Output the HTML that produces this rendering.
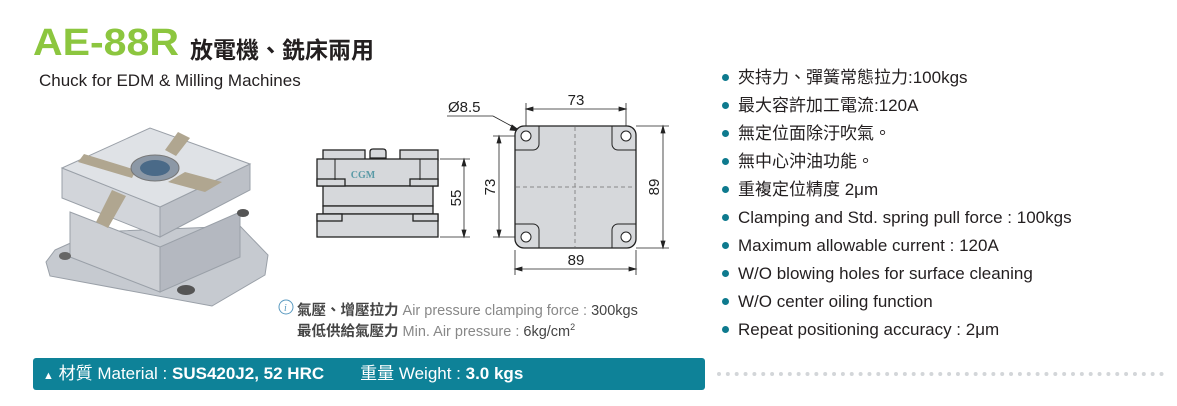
<!DOCTYPE html>
<html><head><meta charset="utf-8"><style>
body{margin:0;width:1177px;height:406px;background:#fff;position:relative;overflow:hidden;font-family:"Liberation Sans","Noto Sans CJK TC",sans-serif;color:#231f20}
.a{position:absolute;white-space:nowrap}
.bl{position:absolute;left:722px;font-size:17px;line-height:20px}
.bl:before{content:"";position:absolute;left:0;top:6px;width:7px;height:7px;border-radius:50%;background:#0e7a8e}
.bl span{margin-left:16px}
</style></head><body>
<div class="a" style="left:33px;top:22px;font-size:38px;font-weight:bold;color:#8cc63f;transform:scaleX(1.08);transform-origin:left">AE-88R</div>
<div class="a" style="left:190px;top:31px;font-size:23px;font-weight:bold">放電機、銑床兩用</div>
<div class="a" style="left:39px;top:71px;font-size:17px">Chuck for EDM &amp; Milling Machines</div>

<svg class="a" style="left:0;top:0" width="1177" height="406">
<!-- photo -->
<g stroke="#9aa0a8" stroke-width="1">
<polygon points="55,250 95,232 240,226 268,255 265,275 212,306 50,276 46,262" fill="#c6cad0"/>
<polygon points="70,212 160,247 160,292 70,257" fill="#cdd0d5"/>
<polygon points="160,247 240,212 240,257 160,292" fill="#b4b8c0"/>
<polygon points="62,168 160,207 160,237 62,198" fill="#d2d5da"/>
<polygon points="160,207 250,164 250,190 160,237" fill="#bcc0c7"/>
<polygon points="62,168 150,128 250,164 160,207" fill="#dfe2e6"/>
</g>
<polygon points="78,162 132,178 136,170 84,154" fill="#b0a690"/>
<polygon points="168,182 185,172 222,182 205,192" fill="#b0a690"/>
<polygon points="112,190 96,222 108,228 126,196" fill="#b0a690"/>
<polygon points="165,150 178,132 190,138 176,156" fill="#b0a690"/>
<ellipse cx="155" cy="168" rx="24" ry="13" fill="#8c98a6" stroke="#777"/>
<ellipse cx="155" cy="168" rx="15" ry="8" fill="#4a6a88"/>
<ellipse cx="186" cy="290" rx="9" ry="5" fill="#555"/>
<ellipse cx="243" cy="213" rx="6" ry="4" fill="#555"/>
<ellipse cx="65" cy="256" rx="6" ry="4" fill="#666"/>

<!-- side view -->
<g fill="#d6d8db" stroke="#222" stroke-width="1.3">
<rect x="323" y="150" width="42" height="10"/>
<rect x="400" y="150" width="38" height="10"/>
<path d="M370,158 v-6 q0,-3 3,-3 h10 q3,0 3,3 v6z"/>
<rect x="317" y="159" width="121" height="27"/>
<rect x="323" y="186" width="110" height="20"/>
<rect x="323" y="206" width="110" height="8"/>
<rect x="317" y="214" width="121" height="23"/>
<rect x="317" y="179" width="28" height="7"/><rect x="410" y="179" width="28" height="7"/>
<rect x="317" y="214" width="25" height="7"/><rect x="413" y="214" width="25" height="7"/>
</g>
<line x1="335" y1="159" x2="335" y2="180" stroke="#222"/><line x1="420" y1="159" x2="420" y2="180" stroke="#222"/>
<text x="363" y="178" font-family="Liberation Serif,serif" font-weight="bold" font-size="10" fill="#5a9aa6" text-anchor="middle">CGM</text>
<g stroke="#222" stroke-width="0.8" fill="#222">
<line x1="440" y1="159" x2="470" y2="159"/><line x1="440" y1="237" x2="470" y2="237"/>
<line x1="464" y1="161" x2="464" y2="235"/>
<polygon points="464,159 462,166 466,166"/><polygon points="464,237 462,230 466,230"/>
<line x1="493" y1="136" x2="515" y2="136"/><line x1="493" y1="237" x2="515" y2="237"/>
<line x1="499" y1="138" x2="499" y2="235"/>
<polygon points="499,136 497,143 501,143"/><polygon points="499,237 497,230 501,230"/>
<line x1="526" y1="103" x2="526" y2="130"/><line x1="626" y1="103" x2="626" y2="130"/>
<line x1="528" y1="109" x2="624" y2="109"/>
<polygon points="526,109 533,107 533,111"/><polygon points="626,109 619,107 619,111"/>
<line x1="636" y1="126" x2="669" y2="126"/><line x1="636" y1="248" x2="669" y2="248"/>
<line x1="663" y1="128" x2="663" y2="246"/>
<polygon points="663,126 661,133 665,133"/><polygon points="663,248 661,241 665,241"/>
<line x1="515" y1="250" x2="515" y2="275"/><line x1="636" y1="250" x2="636" y2="275"/>
<line x1="517" y1="269" x2="634" y2="269"/>
<polygon points="515,269 522,267 522,271"/><polygon points="636,269 629,267 629,271"/>
<line x1="447" y1="116" x2="493" y2="116"/><line x1="493" y1="116" x2="517" y2="129"/>
<polygon points="520,131 512,125 510,130"/>
</g>
<rect x="515" y="126" width="121" height="122" rx="9" fill="#d6d8db" stroke="#222" stroke-width="1.3"/>
<g stroke="#888" stroke-dasharray="4,3" stroke-width="1"><line x1="575" y1="127" x2="575" y2="247"/><line x1="516" y1="187" x2="635" y2="187"/></g>
<g fill="none" stroke="#222" stroke-width="1">
<path d="M515,150 h18 a6,6 0 0 0 6,-6 v-18"/><path d="M636,150 h-18 a6,6 0 0 1 -6,-6 v-18"/>
<path d="M515,224 h18 a6,6 0 0 1 6,6 v18"/><path d="M636,224 h-18 a6,6 0 0 0 -6,6 v18"/>
</g>
<g fill="#fff" stroke="#222"><circle cx="526" cy="136" r="5"/><circle cx="626" cy="136" r="5"/><circle cx="526" cy="237" r="5"/><circle cx="626" cy="237" r="5"/></g>
<g font-family="Liberation Sans,sans-serif" font-size="15" fill="#222">
<text x="448" y="112">Ø8.5</text><text x="576" y="105" text-anchor="middle">73</text>
<text x="576" y="265" text-anchor="middle">89</text>
<text transform="translate(461,198) rotate(-90)" text-anchor="middle">55</text>
<text transform="translate(495,187) rotate(-90)" text-anchor="middle">73</text>
<text transform="translate(659,187) rotate(-90)" text-anchor="middle">89</text>
</g>
<circle cx="286" cy="307" r="7" fill="none" stroke="#5a9ac0"/>
<text x="284" y="311" font-size="10" font-style="italic" fill="#5a9ac0" font-family="Liberation Serif,serif">i</text>
<line x1="719" y1="374" x2="1162" y2="374" stroke="#d3d6d9" stroke-width="4" stroke-dasharray="0,8.85" stroke-linecap="round"/>
</svg>

<div class="a" style="left:297px;top:299px;font-size:14.5px;color:#444"><b>氣壓、增壓拉力</b> <span style="color:#888">Air pressure clamping force :</span> 300kgs</div>
<div class="a" style="left:297px;top:320px;font-size:14.5px;color:#444"><b>最低供給氣壓力</b> <span style="color:#888">Min. Air pressure :</span> 6kg/cm<sup style="font-size:9px">2</sup></div>

<div class="a" style="left:33px;top:358px;width:672px;height:32px;background:#0e8298;border-radius:3px;color:#fff;font-size:17px;line-height:32px">
<span style="margin-left:10px;font-size:11px">▲</span> 材質 Material : <b>SUS420J2, 52 HRC</b><span style="margin-left:36px">重量 Weight : <b>3.0 kgs</b></span></div>

<div class="bl" style="top:68px"><span>夾持力、彈簧常態拉力:100kgs</span></div>
<div class="bl" style="top:96px"><span>最大容許加工電流:120A</span></div>
<div class="bl" style="top:124px"><span>無定位面除汙吹氣。</span></div>
<div class="bl" style="top:152px"><span>無中心沖油功能。</span></div>
<div class="bl" style="top:180px"><span>重複定位精度 2μm</span></div>
<div class="bl" style="top:208px"><span>Clamping and Std. spring pull force : 100kgs</span></div>
<div class="bl" style="top:236px"><span>Maximum allowable current : 120A</span></div>
<div class="bl" style="top:264px"><span>W/O blowing holes for surface cleaning</span></div>
<div class="bl" style="top:292px"><span>W/O center oiling function</span></div>
<div class="bl" style="top:320px"><span>Repeat positioning accuracy : 2μm</span></div>
</body></html>
